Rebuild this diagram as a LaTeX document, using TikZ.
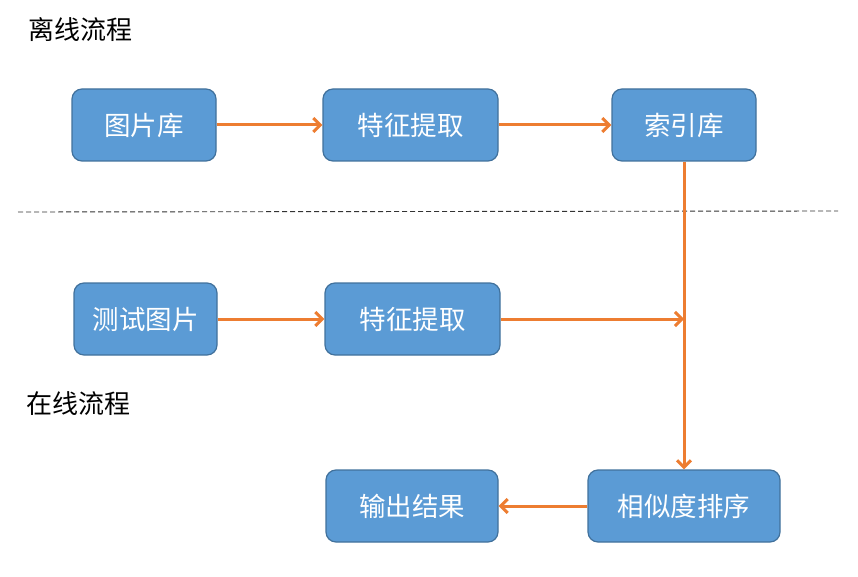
\documentclass[tikz,border=0pt]{standalone}
\usepackage{fontspec}
\newfontfamily\cjk{Noto Sans CJK SC}
\usetikzlibrary{arrows.meta, positioning}
\definecolor{BoxBlue}{HTML}{5B9BD5}
\definecolor{BoxEdge}{HTML}{41719C}
\definecolor{FlowOrange}{HTML}{ED7D31}
\tikzset{
    % Box styles
    stage/.style={
        rectangle,
        rounded corners=10pt,
        draw=BoxEdge,
        fill=BoxBlue,
        line width=1.2pt,
        minimum height=72pt,
        align=center,
        text=white,
        font=\cjk\fontsize{26.5}{30}\selectfont
    },
    phase/.style={
        anchor=west,
        font=\cjk\fontsize{26}{30}\selectfont
    },
    % Arrow styles
    arrow/.style={
        -{Straight Barb[length=7pt,width=14pt,line width=3pt]},
        line width=3pt,
        draw=FlowOrange
    },
    divider/.style={
        dashed,
        dash pattern=on 5pt off 3pt,
        line width=0.9pt,
        draw=black!80
    }
}

\begin{document}
\begin{tikzpicture}[x=1pt, y=-1pt]
    \useasboundingbox (0,0) rectangle (858,577);

    % Offline flow
    \node[phase] (off) at (25,30) {离线流程};
    \node[stage, minimum width=144pt] (lib) at (144,125) {图片库};
    \node[stage, minimum width=175pt] (feat1) at (410.5,125) {特征提取};
    \node[stage, minimum width=144pt] (idx) at (684,125) {索引库};

    % Divider
    \coordinate (dl) at (18,212);
    \coordinate (dr) at (838,211);
    \draw[divider] (dl) -- (dr);

    % Online flow
    \node[stage, minimum width=143pt] (test) at (145.5,319) {测试图片};
    \node[stage, minimum width=175pt] (feat2) at (412.5,319) {特征提取};
    \node[phase] (on) at (23,404) {在线流程};
    \node[stage, minimum width=172pt] (out) at (412,506) {输出结果};
    \node[stage, minimum width=192pt] (rank) at (684,506) {相似度排序};

    % Arrows
    \coordinate (join) at (idx.south |- feat2.east);
    \draw[arrow] (lib) -- (feat1);
    \draw[arrow] (feat1) -- (idx);
    \draw[arrow] (test) -- (feat2);
    \draw[arrow] (feat2) -- (join);
    \draw[arrow] (idx) -- (rank);
    \draw[arrow] (rank) -- (out);
\end{tikzpicture}
\end{document}
